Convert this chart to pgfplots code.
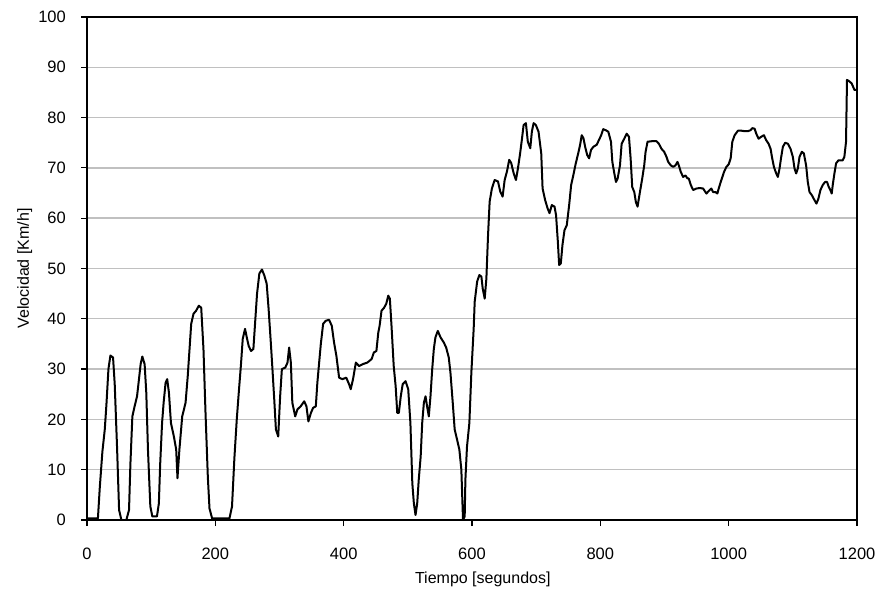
\documentclass[border=0pt]{standalone}
\usepackage{pgfplots}
\pgfplotsset{compat=1.18}
\usepackage{fontspec}
\setmainfont{Liberation Sans}

\definecolor{gridgray}{RGB}{192,192,192}

\begin{document}
\fontsize{16bp}{19bp}\selectfont
\begin{tikzpicture}
\begin{axis}[
  name=ax,
  at={(0,0)}, anchor=south west,
  scale only axis,
  width=770bp, height=503bp,
  xmin=0, xmax=1200, ymin=0, ymax=100,
  xtick={0,200,...,1200},
  ytick={0,10,...,100},
  /pgf/number format/1000 sep={},
  /pgf/number format/assume math mode=true,
  tick align=outside,
  tick pos=left,
  major tick length=6bp,
  every tick/.style={black, line width=1.2bp},
  axis line style={black, line width=1.6bp},
  ymajorgrids,
  major grid style={gridgray, line width=1.4bp},
  xticklabel style={anchor=base, yshift=-33bp, font=\fontsize{16.5bp}{19bp}\selectfont},
  yticklabel style={anchor=east, inner sep=0pt, xshift=-15bp, font=\fontsize{16.5bp}{19bp}\selectfont},
  xlabel={Tiempo [segundos]},
  ylabel={Velocidad [Km/h]},
  xlabel style={at={(axis description cs:0.514,-0.127)}, anchor=base, inner sep=0pt,
                font=\fontsize{16bp}{19bp}\selectfont},
  ylabel style={at={(axis description cs:-0.081,0.5)}, anchor=center, rotate=0,
                font=\fontsize{16bp}{19bp}\selectfont},
  clip=true,
]
\addplot[black, line width=2bp, mark=none, line join=round] table {
t v
0 0.3
17 0.3
20 6.6
24 13.6
27.7 18
30.3 23
33.4 30
36.5 32.7
40.6 32.3
43.2 27
46.8 14.6
50 2
53.6 0
61.3 0
65.5 2
67.6 11
70.7 20.6
74.2 22.6
78 24.6
81 28
83.6 31
86.2 32.5
89.8 31
92.4 25.3
95 14
98.7 2.7
101.8 0.7
109 0.7
112 3.3
114 11
117 19.3
119.4 23.3
122.5 27.3
125 28
127.7 25.3
130.8 19.3
135.4 16.6
139 14
141 8.3
144 14
148.4 20.6
153.6 23.3
157 28.6
159.8 34
162.4 39
166 41
170 41.6
174.3 42.6
178 42.2
181.5 34
184.7 21.3
188.3 8.6
190.9 2.3
195 0.3
222 0.3
226 2.7
229.7 12.3
233.4 20
236.5 25.3
240 31
242.7 36
246.3 38
249 36.3
252 34.6
255.6 33.6
259.3 34
262.4 40
265 45
268.6 49
272.7 49.8
276.4 48.6
280 47
283 42
286.6 35
289 30
291.8 24
294.4 18
298 16.6
301 24.6
303.7 30
309 30.3
312.5 31.3
315 34.3
317.7 31.3
320 23.3
324.5 20.6
328 22
333 22.6
338.5 23.6
342 22.6
345 19.6
349 21.3
352.4 22.3
356.6 22.6
359 27.3
361.8 31.3
364.4 35
368 39
372 39.6
377.3 39.8
381.5 38.6
385 35.3
388.7 32.6
392.9 28.3
398 28
404 28.3
408.4 27
411 26
414.6 28
419 31.3
424 30.6
430 31
437 31.3
443.6 32
447 33.3
451 33.6
454 37.3
456 38.6
459 41.6
463 42.2
466.4 43
469.5 44.6
472 44
474.7 38.3
478 30.6
481 26.6
483.5 21.3
486 21.3
489 24.6
492 27
496.5 27.6
500.6 26
504 19.3
507 7.3
509.4 3.3
512 1
514.6 3.3
517 8
520 12.6
522.4 19.3
525 23.3
527.6 24.6
530 22.6
532.7 20.6
535.3 24.6
538 30
540.5 34
543 36.3
546.7 37.6
551 36.3
556 35.3
559.7 34.3
563.8 32.3
566.4 29.3
570 23.3
573 18
576.7 16
580.3 14
583.4 10
586 0
588.6 0.7
589.7 8
592.2 14.6
595.9 19.3
599 29.3
602.6 38
604.2 43.4
608 47.4
611.5 48.7
614.6 48.4
616.7 46
619.8 44
622.4 48
625 56.6
627.5 63.3
631 65.9
635.3 67.6
640.5 67.3
644 65.3
647.7 64.3
650.9 67.6
654.5 69.3
658 71.6
661 71
665 68.9
668.5 67.6
671.6 69.9
675 72.9
678 75.9
680.4 78.5
684 78.9
687 75.2
690.8 73.9
693.3 77.2
696 78.9
699.6 78.5
703.7 77.2
707.9 72.9
710 65.9
714 63.6
717.7 62
720.8 61
724.4 62.6
728.6 62.3
731 60.6
733.8 55.3
735.8 50.7
738.4 51
741 54.7
744.1 57.6
747.7 58.6
751.4 62.6
754.5 66.6
758 68.6
761.7 70.9
765 72.6
768.5 74.6
771 76.5
773.7 75.9
776.3 74.2
779.4 72.6
782.5 71.9
785.6 73.6
789.2 74.2
794.4 74.6
798 75.6
801 76.4
804.5 77.7
808.3 77.5
812.4 77.2
816.6 75.2
818.7 71.2
821.8 68.9
824.4 67.2
827 67.9
830.6 70.5
833.2 74.8
837.3 75.8
841 76.8
844.6 76.2
847.2 71.9
849.7 66.2
852.9 65.2
855.4 63.2
858 62.3
861.7 65.2
865.3 67.9
868.4 70.5
870.5 73.2
873.6 75.2
879.8 75.3
887.6 75.3
891.2 74.8
895.3 73.8
899.5 73.2
903.1 72.2
905.7 71.2
909.9 70.5
913.5 70.2
917.1 70.5
920.2 71.2
922.3 70.5
925.4 69.2
929 68.2
932.6 68.5
935.8 67.9
937.8 67.9
941 66.6
944.6 65.6
949.8 65.9
955 66
960.1 65.9
965.3 64.9
968.9 65.4
973 65.9
975.7 65.2
979.3 65.2
982.4 64.9
984.5 65.9
987.6 67.2
990.2 68.2
992.8 69.2
996.4 70.2
1000 70.7
1003.1 71.9
1005.7 75.2
1009.3 76.5
1014.5 77.4
1019.7 77.4
1024.9 77.3
1030 77.3
1034.2 77.5
1036.8 77.9
1040.4 77.8
1043 76.8
1046.6 75.8
1050.8 76.2
1054.9 76.5
1058.5 75.5
1062.2 74.8
1065.3 73.8
1067.4 72.2
1070.5 70.2
1074.1 68.9
1076.7 68.2
1079.3 69.9
1081.9 72.2
1084.5 74.2
1088.1 75
1092.3 74.8
1096.4 73.8
1100 72.2
1102.6 69.9
1105.2 68.9
1107.8 69.9
1110.4 72.2
1114 73.2
1117.1 72.9
1120.7 70.5
1123.3 67.2
1126 65.2
1129.5 64.6
1133.7 63.6
1136.8 62.9
1139.9 63.9
1143 65.6
1146.6 66.6
1150.3 67.2
1153.4 67.2
1156 66.2
1158.5 65.6
1160.6 64.9
1162.2 66.6
1164.8 68.9
1167.4 70.9
1171 71.5
1177.7 71.5
1180.3 72.2
1182.9 75.2
1184.4 87.5
1188 87.2
1191.6 86.8
1193.7 86.2
1196 85.5
1199 85.5
};
\end{axis}
\pgfresetboundingbox
\path[use as bounding box] ([xshift=-87bp,yshift=-72bp]ax.south west)
  rectangle ([xshift=22bp,yshift=17bp]ax.north east);
\end{tikzpicture}
\end{document}
